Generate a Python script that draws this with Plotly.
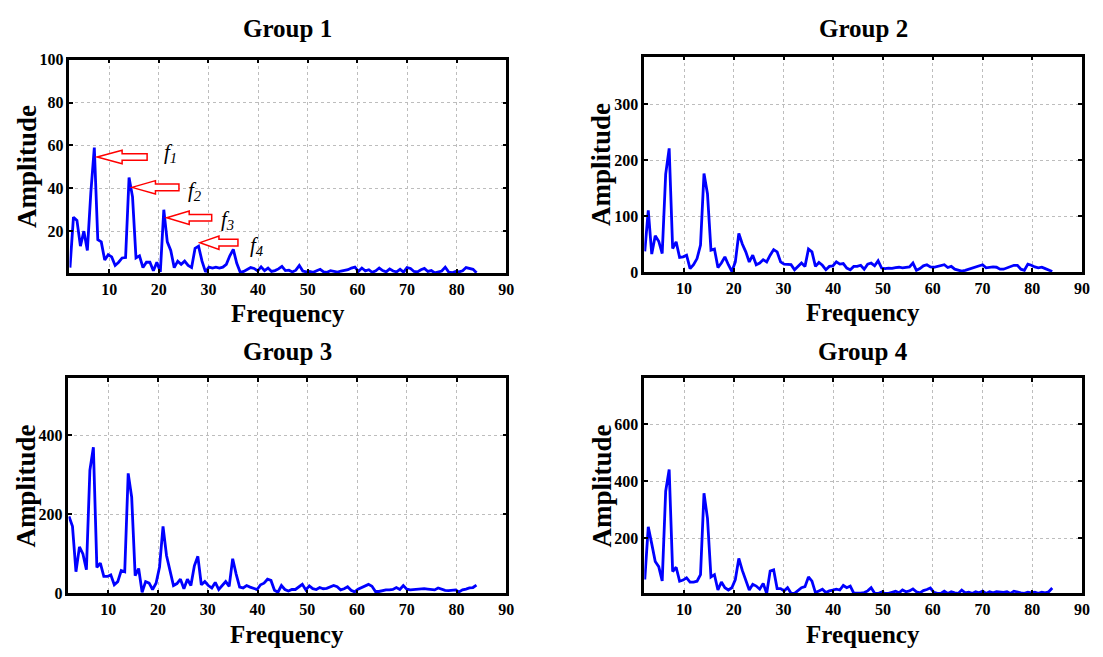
import numpy as np
import plotly.graph_objects as go

W, H = 1103, 657

# Frequency bins (0.7 spacing, first bin at 2.1)
freq = np.round(2.1 + 0.7 * np.arange(118), 1)

amp_group1 = [
    3, 26.5, 25, 13, 20, 11, 38, 59, 16, 15,
    6.5, 9, 8, 4, 5.5, 7.5, 7.7, 45, 36, 7.5,
    8.5, 3, 5.5, 5.5, 1.5, 5.5, 1, 30, 15, 11,
    3, 6, 4.5, 6, 4, 3, 12, 13, 6, 1,
    3.2, 2.8, 3.2, 2.8, 3.2, 4.5, 8.5, 11.5, 5, 0.8,
    1.2, 2.2, 3, 2.6, 1.5, 3.4, 1.6, 2.8, 1.2, 1.6,
    2.4, 3.6, 1.6, 1.8, 1, 1.8, 4, 1.4, 1.0, 1.2,
    0.8, 1.5, 2.2, 1.0, 0.8, 1.6, 1.2, 0.9, 1.4, 1.8,
    2.0, 2.8, 3.2, 1.2, 2.8, 1.5, 2.0, 0.8, 1.5, 2.8,
    1.6, 1.0, 2.4, 1.4, 1.0, 2.2, 0.9, 3.0, 2.6, 1.2,
    1.0, 2.0, 2.6, 1.2, 1.6, 0.5, 0.8, 1.4, 3.2, 0.9,
    0.6, 1.2, 1.0, 1.5, 3.0, 2.6, 2.2, 0.6,
]

amp_group2 = [
    37, 110, 32, 65, 55, 33, 175, 221, 42, 54,
    26, 27, 30, 6, 13, 24, 48, 176, 140, 39,
    41, 8, 16, 27, 13, 1, 18, 69, 50, 36,
    18, 30, 13, 16, 22, 18, 30, 40, 36, 18,
    14, 14, 13, 4, 11, 16, 10, 41, 36, 10,
    17, 12, 4, 10, 11, 18, 14, 15, 7, 4,
    10, 10, 12, 5, 14, 16, 11, 20, 7, 6,
    7, 6.5, 8, 8.5, 7.5, 8.5, 9, 16, 3, 6,
    11, 13, 9, 8.5, 10, 11, 13, 8, 10, 5,
    3, 1.5, 3, 5, 7, 8, 11, 13, 7.5, 8.5,
    9, 8.5, 5, 5, 7.5, 10, 12, 12, 5, 3,
    14, 12, 9, 7.5, 8.5, 6, 4, 1,
]

amp_group3 = [
    195, 170, 55, 118, 100, 60, 312, 370, 66, 77,
    43, 43, 47, 22, 30, 58, 55, 304, 244, 45,
    63, 3, 30, 26, 10, 26, 67, 170, 96, 55,
    20, 25, 36, 12, 36, 20, 70, 94, 22, 30,
    20, 14, 28, 10, 20, 30, 18, 88, 49, 16,
    14, 20, 16, 12, 10, 22, 26, 36, 33, 8,
    3, 20, 10, 6, 10, 10, 16, 23, 9, 19,
    12, 10, 15, 12, 13, 16, 20, 17, 9, 12,
    17, 8, 4, 11, 15, 21, 23, 18, 5, 5,
    7, 9, 9, 10, 15, 10, 20, 11, 9, 10,
    11, 11, 12, 11, 10, 9, 14, 11, 8, 7,
    8, 9, 4, 9, 11, 14, 15, 21,
]

amp_group4 = [
    55, 240, 180, 118, 100, 50, 365, 441, 83, 98,
    49, 53, 61, 46, 46, 49, 72, 358, 270, 64,
    72, 18, 46, 26, 18, 26, 55, 129, 87, 55,
    18, 38, 32, 21, 41, 6, 85, 89, 23, 23,
    15, 26, 7, 6, 15, 26, 30, 64, 49, 9,
    15, 21, 9, 15, 18, 21, 18, 34, 26, 32,
    7, 6, 7, 9, 15, 26, 7, 6, 11, 6,
    6, 10, 14, 8, 18, 12, 15, 22, 12, 8,
    16, 20, 25, 10, 6, 6, 14, 6, 12, 8,
    6, 18, 8, 10, 6, 12, 8, 14, 6, 12,
    8, 12, 10, 10, 12, 6, 14, 10, 8, 6,
    10, 8, 10, 6, 10, 8, 12, 25,
]

group_titles = ["Group 1", "Group 2", "Group 3", "Group 4"]
series = [amp_group1, amp_group2, amp_group3, amp_group4]
y_ranges = [[0.5, 100], [0, 385], [0, 545], [6, 762]]
y_ticks = [[20, 40, 60, 80, 100], [0, 100, 200, 300], [0, 200, 400], [200, 400, 600]]
x_ticks = [10, 20, 30, 40, 50, 60, 70, 80, 90]
x_range = [2.0, 90]

# Panel frames in pixels: left, right, top, bottom, title centre
boxes = [(70, 510, 53, 272, 21), (649, 1090, 50, 271, 21),
         (69, 510, 380, 601, 353), (649, 1090, 380, 601, 353)]

SERIF = "Liberation Serif"


def px_x(v):
    return v / W


def px_y(v):
    return 1 - v / H


fig = go.Figure()
annotations = []
shapes = []

for k, (title, amp, yr, yt, box) in enumerate(zip(group_titles, series, y_ranges, y_ticks, boxes), start=1):
    sfx = "" if k == 1 else str(k)
    left, right, top, bottom, title_y = box
    fig.add_trace(go.Scatter(
        x=freq, y=amp, mode="lines",
        line=dict(color="#0000ff", width=2.8),
        xaxis="x" + sfx, yaxis="y" + sfx, showlegend=False, hoverinfo="skip",
    ))
    common = dict(
        ticks="inside", ticklen=4, tickwidth=1.5, tickcolor="black",
        showline=True, linecolor="black", linewidth=2.5, mirror="allticks",
        showgrid=True, gridcolor="#bdbdbd", griddash="dot", gridwidth=1,
        zeroline=False, fixedrange=True,
        tickfont=dict(family=SERIF, size=16, color="black", weight="bold"),
    )
    fig.update_layout(**{
        "xaxis" + sfx: dict(domain=[px_x(left), px_x(right)], range=x_range,
                            tickvals=x_ticks, anchor="y" + sfx, **common),
        "yaxis" + sfx: dict(domain=[px_y(bottom), px_y(top)], range=yr,
                            tickvals=yt, anchor="x" + sfx, **common),
    })
    cx = (left + right) / 2
    annotations.append(dict(text=title, x=px_x(cx), y=px_y(title_y),
                            xref="paper", yref="paper", showarrow=False,
                            xanchor="center", yanchor="middle",
                            font=dict(family=SERIF, size=25, color="black", weight="bold")))
    annotations.append(dict(text="Frequency", x=px_x(cx), y=px_y(bottom + 42),
                            xref="paper", yref="paper", showarrow=False,
                            xanchor="center", yanchor="middle",
                            font=dict(family=SERIF, size=25, color="black", weight="bold")))
    annotations.append(dict(text="Amplitude", x=px_x(left - 43), y=px_y((top + bottom) / 2),
                            xref="paper", yref="paper", showarrow=False, textangle=-90,
                            xanchor="center", yanchor="middle",
                            font=dict(family=SERIF, size=27, color="black", weight="bold")))

# Harmonic markers on Group 1: hollow red arrows pointing at the peaks near 7, 14, 21, 28
freq_arr = np.asarray(freq)
amp1 = np.asarray(amp_group1)
# per harmonic: tip offset (dx, dy, px, screen-down positive), arrow length, label offset
marker_style = [
    (2.8, 9.5, 50, 76, 5.5),
    (2.9, 9.8, 47, 66, 13),
    (2.9, 8.0, 45, 64, 10),
    (1.4, -3.5, 38, 58, 0),
]
for h, (dx, dy, length, lx, ly) in enumerate(marker_style, start=1):
    window = np.abs(freq_arr - 7 * h) <= 1.05
    idx = np.where(window)[0][np.argmax(amp1[window])]
    fx, fy = float(freq_arr[idx]), float(amp1[idx])
    tx, ty = dx, -dy
    head = length * 0.5
    path = (f"M {tx},{ty} L {tx + head},{ty + 6.7} L {tx + head},{ty + 3.3} "
            f"L {tx + length},{ty + 3.3} L {tx + length},{ty - 3.3} "
            f"L {tx + head},{ty - 3.3} L {tx + head},{ty - 6.7} Z")
    shapes.append(dict(type="path", xref="x", yref="y", xsizemode="pixel", ysizemode="pixel",
                       xanchor=fx, yanchor=fy, path=path,
                       line=dict(color="#ff0000", width=1.5), fillcolor="white", layer="above"))
    annotations.append(dict(text=f"<i>f</i><sub><i>{h}</i></sub>", x=fx, y=fy, xref="x", yref="y",
                            xshift=lx, yshift=-ly, showarrow=False,
                            xanchor="center", yanchor="middle",
                            font=dict(family=SERIF, size=21, color="black")))

fig.update_layout(
    width=W, height=H, margin=dict(l=0, r=0, t=0, b=0),
    paper_bgcolor="white", plot_bgcolor="white",
    annotations=annotations, shapes=shapes, hovermode=False,
)

fig.write_html("out.html", config={"displayModeBar": False})
